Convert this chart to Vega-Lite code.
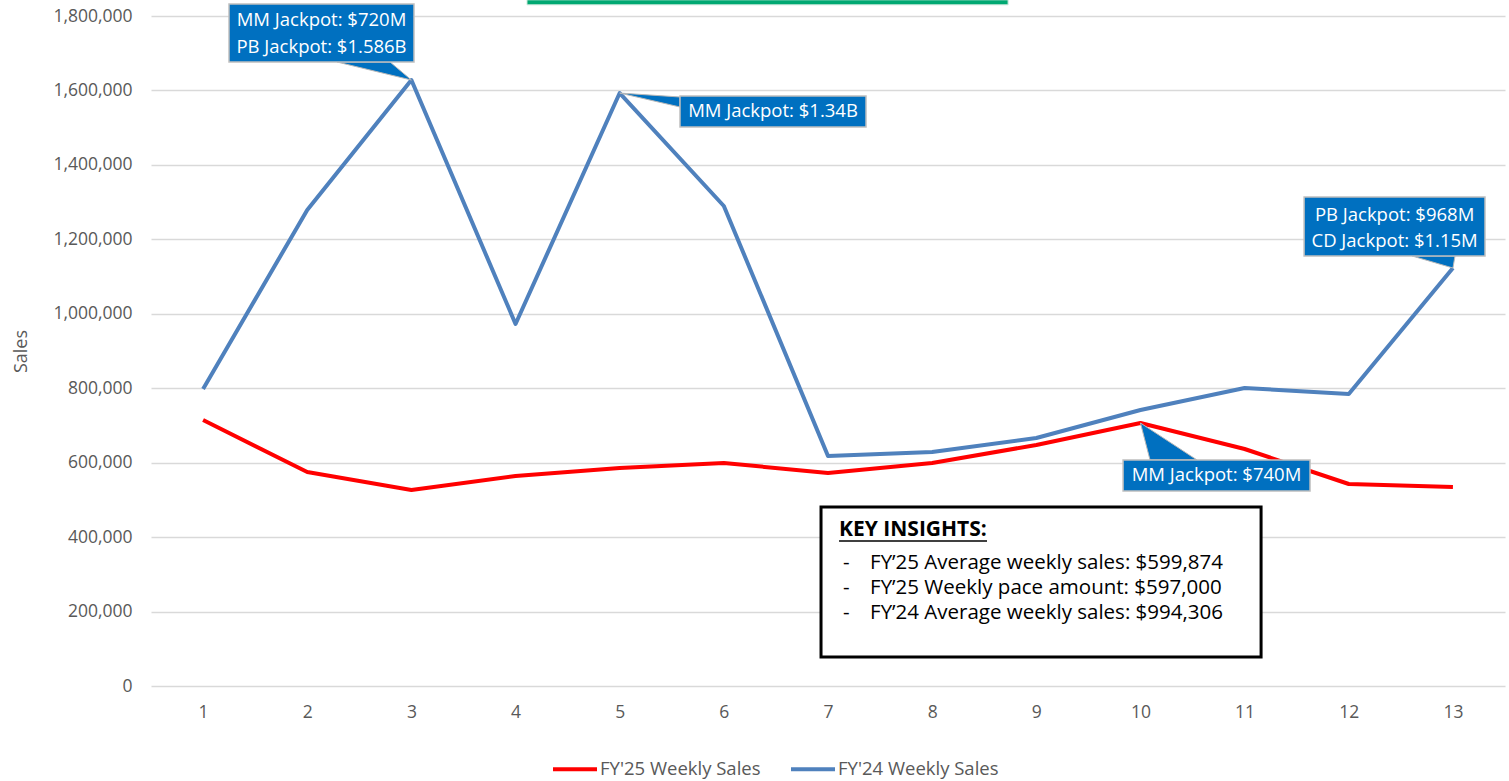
{
  "$schema": "https://vega.github.io/schema/vega-lite/v6.json",
  "autosize": {"type": "none"},
  "width": 1354,
  "height": 670,
  "padding": {"left": 151, "top": 16, "right": 4, "bottom": 95},
  "background": "white",
  "config": {
    "view": {"stroke": null},
    "font": "Open Sans",
    "axis": {"labelFont": "Open Sans", "titleFont": "Open Sans", "labelColor": "#595959", "titleColor": "#595959", "labelFontSize": 17.5, "titleFontSize": 18, "titleFontWeight": "normal"}
  },
  "datasets": {
    "sales": [
      {"week": 1, "series": "FY'25 Weekly Sales", "sales": 714600},
      {"week": 2, "series": "FY'25 Weekly Sales", "sales": 575000},
      {"week": 3, "series": "FY'25 Weekly Sales", "sales": 526600},
      {"week": 4, "series": "FY'25 Weekly Sales", "sales": 564200},
      {"week": 5, "series": "FY'25 Weekly Sales", "sales": 585700},
      {"week": 6, "series": "FY'25 Weekly Sales", "sales": 599100},
      {"week": 7, "series": "FY'25 Weekly Sales", "sales": 572200},
      {"week": 8, "series": "FY'25 Weekly Sales", "sales": 599100},
      {"week": 9, "series": "FY'25 Weekly Sales", "sales": 647500},
      {"week": 10, "series": "FY'25 Weekly Sales", "sales": 706600},
      {"week": 11, "series": "FY'25 Weekly Sales", "sales": 636700},
      {"week": 12, "series": "FY'25 Weekly Sales", "sales": 542700},
      {"week": 13, "series": "FY'25 Weekly Sales", "sales": 534600},
      {"week": 1, "series": "FY'24 Weekly Sales", "sales": 798000},
      {"week": 2, "series": "FY'24 Weekly Sales", "sales": 1278800},
      {"week": 3, "series": "FY'24 Weekly Sales", "sales": 1628000},
      {"week": 4, "series": "FY'24 Weekly Sales", "sales": 972600},
      {"week": 5, "series": "FY'24 Weekly Sales", "sales": 1593000},
      {"week": 6, "series": "FY'24 Weekly Sales", "sales": 1289600},
      {"week": 7, "series": "FY'24 Weekly Sales", "sales": 618000},
      {"week": 8, "series": "FY'24 Weekly Sales", "sales": 628700},
      {"week": 9, "series": "FY'24 Weekly Sales", "sales": 666300},
      {"week": 10, "series": "FY'24 Weekly Sales", "sales": 741500},
      {"week": 11, "series": "FY'24 Weekly Sales", "sales": 800600},
      {"week": 12, "series": "FY'24 Weekly Sales", "sales": 784500},
      {"week": 13, "series": "FY'24 Weekly Sales", "sales": 1123000}
    ],
    "deco": [{"x1": 4.11, "x2": 8.729, "y1": 1830000, "y2": 1843500}],
    "keybox": [{"x1": 6.933, "x2": 11.158, "y1": 77910, "y2": 480900}],
    "keytext": [
      {"x": 7.106, "y": 419110, "label": "KEY INSIGHTS:", "kind": "head"},
      {"x": 7.144, "y": 330450, "label": "-", "kind": "dash"},
      {"x": 7.144, "y": 263290, "label": "-", "kind": "dash"},
      {"x": 7.144, "y": 196120, "label": "-", "kind": "dash"},
      {"x": 7.404, "y": 330450, "label": "FY’25 Average weekly sales: $599,874", "kind": "body"},
      {"x": 7.404, "y": 263290, "label": "FY’25 Weekly pace amount: $597,000", "kind": "body"},
      {"x": 7.404, "y": 196120, "label": "FY’24 Average weekly sales: $994,306", "kind": "body"}
    ],
    "underline": [{"x1": 7.106, "x2": 8.527, "y": 389560}],
    "pointers": [
      {"id": "a", "k": 1, "x": 2.286, "y": 1676440},
      {"id": "a", "k": 2, "x": 3.0, "y": 1628000},
      {"id": "a", "k": 3, "x": 2.795, "y": 1676440},
      {"id": "b", "k": 1, "x": 5.579, "y": 1582400},
      {"id": "b", "k": 2, "x": 5.0, "y": 1593000},
      {"id": "b", "k": 3, "x": 5.579, "y": 1555550},
      {"id": "c", "k": 1, "x": 12.608, "y": 1155240},
      {"id": "c", "k": 2, "x": 13.0, "y": 1123000},
      {"id": "c", "k": 3, "x": 13.02, "y": 1155240},
      {"id": "d", "k": 1, "x": 10.092, "y": 607170},
      {"id": "d", "k": 2, "x": 10.0, "y": 706600},
      {"id": "d", "k": 3, "x": 10.543, "y": 607170}
    ],
    "cboxes": [
      {"x1": 1.249, "x2": 3.025, "y1": 1676440, "y2": 1832260},
      {"x1": 5.579, "x2": 7.365, "y1": 1501810, "y2": 1585090},
      {"x1": 11.571, "x2": 13.308, "y1": 1155240, "y2": 1313750},
      {"x1": 9.833, "x2": 11.628, "y1": 523890, "y2": 607170}
    ],
    "ctext": [
      {"x": 2.137, "y": 1789300, "label": "MM Jackpot: $720M"},
      {"x": 2.137, "y": 1716700, "label": "PB Jackpot: $1.586B"},
      {"x": 6.472, "y": 1543450, "label": "MM Jackpot: $1.34B"},
      {"x": 12.44, "y": 1265390, "label": "PB Jackpot: $968M"},
      {"x": 12.44, "y": 1195540, "label": "CD Jackpot: $1.15M"},
      {"x": 10.73, "y": 565530, "label": "MM Jackpot: $740M"}
    ]
  },
  "layer": [
    {
      "data": {"name": "sales"},
      "mark": {"type": "line", "strokeWidth": 4, "strokeJoin": "round"},
      "encoding": {
        "x": {"field": "week", "type": "quantitative", "scale": {"domain": [0.5, 13.5], "nice": false},
              "axis": {"title": null, "values": [1,2,3,4,5,6,7,8,9,10,11,12,13], "format": "d", "grid": false, "ticks": false, "domain": false, "labelPadding": 17}},
        "y": {"field": "sales", "type": "quantitative", "scale": {"domain": [0, 1800000], "nice": false},
              "axis": {"title": "Sales", "values": [0,200000,400000,600000,800000,1000000,1200000,1400000,1600000,1800000], "format": ",d", "grid": true, "gridColor": "#d9d9d9", "gridWidth": 1.3, "ticks": false, "domain": false, "labelPadding": 19, "titlePadding": 22}},
        "color": {"field": "series", "type": "nominal",
                  "scale": {"domain": ["FY'25 Weekly Sales", "FY'24 Weekly Sales"], "range": ["#ff0000", "#4f81bd"]},
                  "legend": {"title": null, "orient": "none", "direction": "horizontal", "legendX": 400, "legendY": 729,
                             "symbolType": "stroke", "symbolSize": 1936, "symbolStrokeWidth": 4, "labelLimit": 400,
                             "labelFont": "Open Sans", "labelFontSize": 18.5, "labelColor": "#595959", "labelOffset": 1, "columnPadding": 22}}
      }
    },
    {
      "data": {"name": "deco"},
      "mark": {"type": "rect", "fill": "#00a872", "stroke": "#cfe9dd", "strokeWidth": 1},
      "encoding": {
        "x": {"field": "x1", "type": "quantitative"}, "x2": {"field": "x2"},
        "y": {"field": "y1", "type": "quantitative"}, "y2": {"field": "y2"}
      }
    },
    {
      "data": {"name": "keybox"},
      "mark": {"type": "rect", "fill": "white", "stroke": "black", "strokeWidth": 3},
      "encoding": {
        "x": {"field": "x1", "type": "quantitative"}, "x2": {"field": "x2"},
        "y": {"field": "y1", "type": "quantitative"}, "y2": {"field": "y2"}
      }
    },
    {
      "data": {"name": "keytext"},
      "transform": [{"filter": "datum.kind === 'head'"}],
      "mark": {"type": "text", "align": "left", "baseline": "middle", "fontSize": 21, "fontWeight": "bold", "color": "black", "font": "Open Sans"},
      "encoding": {
        "x": {"field": "x", "type": "quantitative"},
        "y": {"field": "y", "type": "quantitative"},
        "text": {"field": "label"}
      }
    },
    {
      "data": {"name": "keytext"},
      "transform": [{"filter": "datum.kind !== 'head'"}],
      "mark": {"type": "text", "align": "left", "baseline": "middle", "fontSize": 20.5, "color": "black", "font": "Open Sans"},
      "encoding": {
        "x": {"field": "x", "type": "quantitative"},
        "y": {"field": "y", "type": "quantitative"},
        "text": {"field": "label"}
      }
    },
    {
      "data": {"name": "underline"},
      "mark": {"type": "rule", "stroke": "black", "strokeWidth": 1.5},
      "encoding": {
        "x": {"field": "x1", "type": "quantitative"}, "x2": {"field": "x2"},
        "y": {"field": "y", "type": "quantitative"}
      }
    },
    {
      "data": {"name": "pointers"},
      "mark": {"type": "line", "fill": "#0070c0", "stroke": "#b8b8b8", "strokeWidth": 1, "interpolate": "linear-closed"},
      "encoding": {
        "x": {"field": "x", "type": "quantitative"},
        "y": {"field": "y", "type": "quantitative"},
        "detail": {"field": "id"},
        "order": {"field": "k"}
      }
    },
    {
      "data": {"name": "cboxes"},
      "mark": {"type": "rect", "fill": "#0070c0", "stroke": "#bfbfbf", "strokeWidth": 1.5},
      "encoding": {
        "x": {"field": "x1", "type": "quantitative"}, "x2": {"field": "x2"},
        "y": {"field": "y1", "type": "quantitative"}, "y2": {"field": "y2"}
      }
    },
    {
      "data": {"name": "ctext"},
      "mark": {"type": "text", "align": "center", "baseline": "middle", "fontSize": 18.5, "color": "white", "font": "Open Sans"},
      "encoding": {
        "x": {"field": "x", "type": "quantitative"},
        "y": {"field": "y", "type": "quantitative"},
        "text": {"field": "label"}
      }
    }
  ]
}
